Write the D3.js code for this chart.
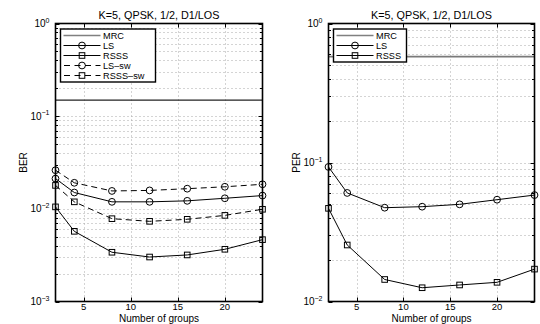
<!DOCTYPE html>
<html><head><meta charset="utf-8">
<script src="https://cdn.jsdelivr.net/npm/d3@7"></script>
<style>body{margin:0;background:#fff}svg{display:block}text{font-family:"Liberation Sans",Arial,sans-serif;}</style>
</head><body><svg id="c" width="540" height="324"></svg>
<script>
const groups = [2, 4, 8, 12, 16, 20, 24];
const xTicks = [5, 10, 15, 20];
// Left panel (BER)
const berMRC = 0.149;
const berLS = [0.0212, 0.0150, 0.0119, 0.0119, 0.0122, 0.0130, 0.0139];
const berRSSS = [0.0105, 0.00572, 0.0034, 0.00302, 0.00318, 0.00366, 0.00465];
const berLSsw = [0.0261, 0.0191, 0.0156, 0.0158, 0.0165, 0.0173, 0.0184];
const berRSSSsw = [0.0179, 0.0119, 0.00783, 0.00733, 0.00771, 0.0085, 0.00989];
// Right panel (PER)
const perMRC = 0.577;
const perLS = [0.0929, 0.0604, 0.0473, 0.0481, 0.0500, 0.0540, 0.0583];
const perRSSS = [0.0468, 0.0255, 0.0144, 0.01256, 0.01315, 0.01374, 0.0171];
const title = "K=5, QPSK, 1/2, D1/LOS";

const svg = d3.select("#c");

function panel(opt){
  const g = svg.append("g");
  const x = d3.scaleLinear().domain([2,24]).range([opt.x0, opt.x1]);
  const y = d3.scaleLog().domain(opt.ydom).range([301.5, 23.5]);
  const L=opt.x0, R=opt.x1, T=23.5, B=301.5;
  const lo = Math.round(Math.log10(opt.ydom[0])), hi = Math.round(Math.log10(opt.ydom[1]));
  const yMajor = d3.range(lo, hi+1).map(e=>Math.pow(10,e));
  const yMinor = [];
  for(let e=lo;e<hi;e++) for(let m=2;m<=9;m++) yMinor.push(m*Math.pow(10,e));
  const gridStyle = s=>s.attr("stroke","#a8a8a8").attr("stroke-width",1).attr("stroke-dasharray","1,3");
  g.selectAll(".gy").data(yMajor.slice(1,-1).concat(yMinor)).join("line")
    .attr("x1",L).attr("x2",R).attr("y1",d=>Math.round(y(d))+0.5).attr("y2",d=>Math.round(y(d))+0.5).call(gridStyle);
  g.selectAll(".gx").data(xTicks).join("line")
    .attr("x1",d=>Math.round(x(d))+0.5).attr("x2",d=>Math.round(x(d))+0.5).attr("y1",T).attr("y2",B).call(gridStyle);
  g.selectAll(".tx").data(xTicks).join("path")
    .attr("d",d=>{const xx=Math.round(x(d))+0.5;return `M${xx},${B}v-4M${xx},${T}v4`;})
    .attr("stroke","#000").attr("stroke-width",1);
  g.selectAll(".ty").data(yMajor).join("path")
    .attr("d",d=>{const yy=Math.round(y(d))+0.5;return `M${L},${yy}h4M${R},${yy}h-4`;})
    .attr("stroke","#000");
  g.selectAll(".tym").data(yMinor).join("path")
    .attr("d",d=>{const yy=Math.round(y(d))+0.5;return `M${L},${yy}h2.5M${R},${yy}h-2.5`;})
    .attr("stroke","#000");
  g.selectAll(".lx").data(xTicks).join("text")
    .attr("x",d=>x(d)).attr("y",310).attr("text-anchor","middle").attr("font-size",9.5).text(d=>d);
  const yl = g.selectAll(".ly").data(yMajor).join("text")
    .attr("x",L-6).attr("y",d=>y(d)+3.5).attr("text-anchor","end").attr("font-size",10);
  yl.each(function(d){
    const t=d3.select(this); const e=Math.round(Math.log10(d));
    t.append("tspan").text("10");
    t.append("tspan").attr("dy",-4.5).attr("font-size",7).text(e===0?"0":"\u2212"+(-e));
  });
  g.append("text").attr("x",(L+R)/2).attr("y",321.5).attr("text-anchor","middle").attr("font-size",10).text("Number of groups");
  g.append("text").attr("transform",`translate(${L-29},${(T+B)/2}) rotate(-90)`).attr("text-anchor","middle").attr("font-size",10).text(opt.ylabel);
  g.append("text").attr("x",(L+R)/2).attr("y",18.5).attr("text-anchor","middle").attr("font-size",10.8).text(title);
  const cid = "clip"+opt.id;
  svg.append("clipPath").attr("id",cid).append("rect").attr("x",L).attr("y",T).attr("width",R-L).attr("height",B-T);
  const pg = g.append("g").attr("clip-path",`url(#${cid})`);
  pg.append("line").attr("x1",L).attr("x2",R).attr("y1",y(opt.mrc)).attr("y2",y(opt.mrc))
    .attr("stroke",opt.mrcColor).attr("stroke-width",opt.mrcW);
  const line = d3.line().x((d,i)=>x(groups[i])).y(d=>y(d));
  const g2 = g.append("g");
  opt.series.forEach(s=>{
    g2.append("path").attr("d",line(s.v)).attr("fill","none").attr("stroke","#000").attr("stroke-width",1)
      .attr("stroke-dasharray",s.dash?"6,4":null);
    drawMarkers(g2, s.v.map((v,i)=>[x(groups[i]),y(v)]), s.m);
  });
  g.append("rect").attr("x",L).attr("y",T).attr("width",R-L).attr("height",B-T)
    .attr("fill","none").attr("stroke","#000").attr("stroke-width",1.6);
  const lg = g.append("g");
  const lx0=L+5, ly0=29, lw=opt.legW, rowH=10;
  const items=[{name:"MRC",mrc:true}].concat(opt.series);
  lg.append("rect").attr("x",lx0).attr("y",ly0).attr("width",lw).attr("height",items.length*rowH+3)
    .attr("fill","#fff").attr("stroke","#000").attr("stroke-width",1.4);
  items.forEach((it,i)=>{
    const yy=ly0+6.5+i*rowH;
    const a=lx0+3, b=lx0+40;
    if(it.mrc){
      lg.append("line").attr("x1",a).attr("x2",b).attr("y1",yy).attr("y2",yy).attr("stroke","#808080").attr("stroke-width",1.6);
    } else {
      lg.append("line").attr("x1",a).attr("x2",b).attr("y1",yy).attr("y2",yy).attr("stroke","#000")
        .attr("stroke-dasharray",it.dash?"6,4.5":null).attr("stroke-dashoffset",it.dash?-0.5:0);
      drawMarkers(lg,[[ (a+b)/2, yy]], it.m);
    }
    lg.append("text").attr("x",b+2.5).attr("y",yy+3.3).attr("font-size",9.2).text(it.name);
  });
}
function drawMarkers(g, pts, m){
  if(m==="o"){
    g.selectAll(null).data(pts).join("circle").attr("cx",d=>d[0]).attr("cy",d=>d[1]).attr("r",3.4)
      .attr("fill","none").attr("stroke","#000").attr("stroke-width",1);
  } else {
    g.selectAll(null).data(pts).join("rect").attr("x",d=>d[0]-2.8).attr("y",d=>d[1]-2.8).attr("width",5.6).attr("height",5.6)
      .attr("fill","none").attr("stroke","#000").attr("stroke-width",1);
  }
}

panel({id:1,x0:55.5,x1:262.5,ydom:[1e-3,1],ylabel:"BER",mrc:berMRC,mrcColor:"#222",mrcW:1.2,legW:95,
  series:[{name:"LS",v:berLS,m:"o",dash:false},{name:"RSSS",v:berRSSS,m:"s",dash:false},
          {name:"LS\u2013sw",v:berLSsw,m:"o",dash:true},{name:"RSSS\u2013sw",v:berRSSSsw,m:"s",dash:true}]});
panel({id:2,x0:328.5,x1:534.5,ydom:[1e-2,1],ylabel:"PER",mrc:perMRC,mrcColor:"#7a7a7a",mrcW:1.8,legW:73,
  series:[{name:"LS",v:perLS,m:"o",dash:false},{name:"RSSS",v:perRSSS,m:"s",dash:false}]});
</script></body></html>
